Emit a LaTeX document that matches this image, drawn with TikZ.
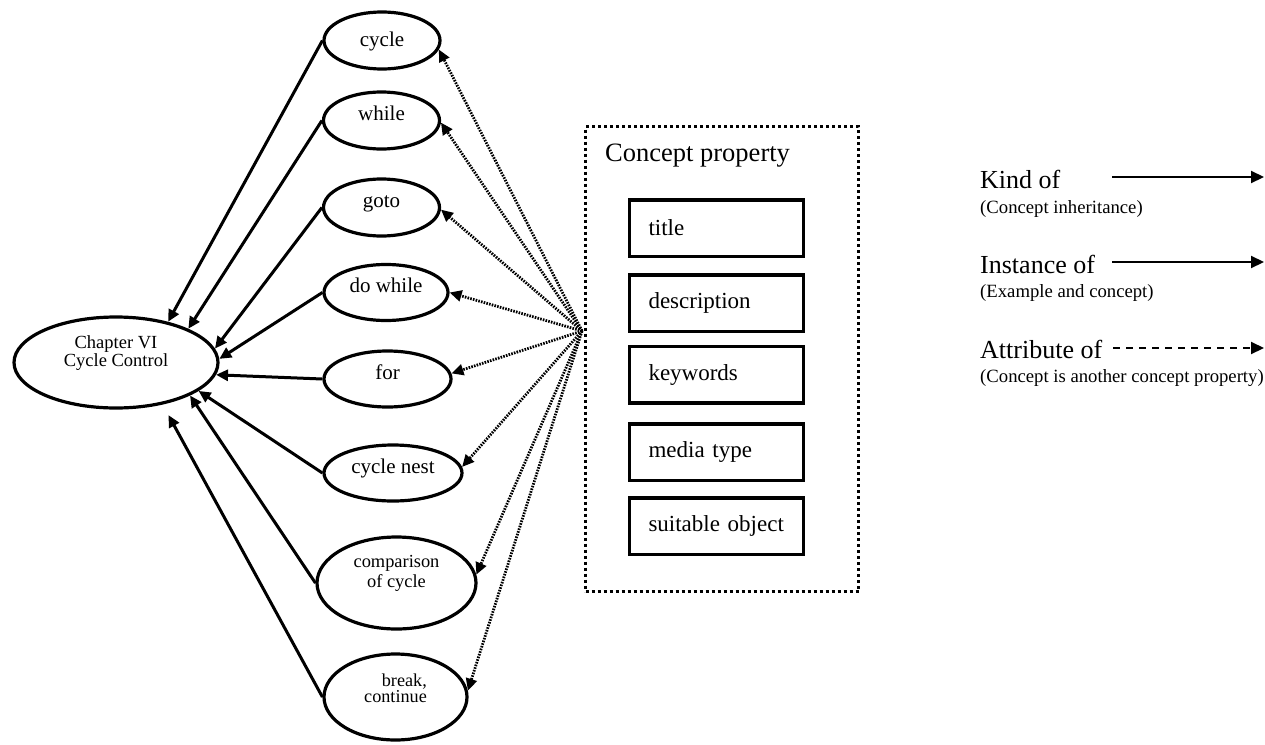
\documentclass[tikz,border=0pt]{standalone}
\usepackage{fontspec}
\setmainfont{Liberation Serif}
\usetikzlibrary{arrows.meta,shapes.geometric}

\begin{document}
\begin{tikzpicture}[x=1pt,y=-1pt,
		ell/.style={shape=ellipse,draw=black,line width=3.2pt,inner sep=0pt,font=\fontsize{21}{23}\selectfont,text height=14pt,text depth=14pt},
		pbox/.style={draw=black,line width=3.5pt,minimum height=56.5pt,text width=136pt,inner xsep=19pt,align=left,font=\fontsize{23}{25}\selectfont},
		propframe/.style={draw=black,line width=3pt,dash pattern=on 3pt off 3pt,minimum width=273pt,minimum height=465pt},
		kindof/.style={line width=3pt,-{Triangle[length=12pt,width=11pt]}},
		attrof/.style={line width=2.8pt,dash pattern=on 1.6pt off 1.2pt,-{Triangle[length=12pt,width=11pt]}},
		legmain/.style={anchor=base west,inner sep=0pt,font=\fontsize{26}{28}\selectfont},
		legsub/.style={anchor=base west,inner sep=0pt,font=\fontsize{18.7}{20}\selectfont},
		legline/.style={line width=2pt,-{Triangle[length=13pt,width=12pt]}}]
			\useasboundingbox (0,0) rectangle (1265,744);

			% concept ellipses
			\node[ell,minimum width=204pt,minimum height=91pt,align=center,font=\fontsize{18.5}{16}\selectfont,text depth=7pt] (chap) at (116,362.5) {Chapter VI\\Cycle Control};
			\node[ell,minimum width=116pt,minimum height=57pt,text depth=2pt] (cyc) at (382,40.5) {cycle};
			\node[ell,minimum width=116pt,minimum height=57pt] (whl) at (381.5,120.5) {while};
			\node[ell,minimum width=116pt,minimum height=57pt] (gto) at (381.5,207.5) {goto};
			\node[ell,minimum width=124pt,minimum height=56pt] (dowhl) at (386,292.5) {do while};
			\node[ell,minimum width=127pt,minimum height=56pt] (forl) at (387.5,379) {for};
			\node[ell,minimum width=138pt,minimum height=56pt] (nest) at (393,473) {cycle nest};
			\node[ell,minimum width=159pt,minimum height=92pt,align=center,font=\fontsize{18.4}{20}\selectfont,text depth=6pt] (comp) at (396.5,583) {comparison\\of cycle};
			\node[ell,minimum width=143pt,minimum height=86pt,align=right,font=\fontsize{18.2}{16}\selectfont,text depth=4pt] (brk) at (395.5,697) {break,\\continue};

			% concept property box
			\node[propframe] (prop) at (722,359) {};
			\node[anchor=base west,inner sep=0pt,font=\fontsize{26.5}{28}\selectfont] (proptitle) at (605,161) {Concept property};
			\node[pbox] (title) at (716.5,228) {title};
			\node[pbox] (desc) at (716.5,303) {description};
			\node[pbox] (keyw) at (716.5,374.5) {keywords};
			\node[pbox] (media) at (716.5,452) {media type};
			\node[pbox] (suit) at (716.5,526) {suitable object};
			\coordinate (hub) at (582,331);

			\path [kindof] (cyc.west) edge (chap.38);
			\path [kindof] (whl.west) edge (chap.25);
			\path [kindof] (gto.west) edge (chap.8.6);
			\path [kindof] (dowhl.west) edge (chap.2.4);
			\path [kindof] (forl.west) edge (chap.-7.4);
			\path [kindof] (nest.west) edge (chap.-19);
			\path [kindof] (comp.west) edge (chap.-24.5);
			\path [kindof,shorten >=12pt] (brk.west) edge (chap.-42);

			\path [attrof] (hub) edge (cyc.-9);
			\path [attrof] (hub) edge (whl.-2);
			\path [attrof] (hub) edge (gto.-2);
			\path [attrof] (hub) edge (dowhl.east);
			\path [attrof] (hub) edge (forl.5);
			\path [attrof] (hub) edge (nest.5);
			\path [attrof] (hub) edge (comp.6);
			\path [attrof] (hub) edge (brk.5);

			% legend
			\node[legmain] (kind) at (980,188) {Kind of};
			\node[legsub] (kindnote) at (980,213) {(Concept inheritance)};
			\node[legmain] (inst) at (980,273) {Instance of};
			\node[legsub] (instnote) at (980,297) {(Example and concept)};
			\node[legmain] (attr) at (980,358) {Attribute of};
			\node[legsub] (attrnote) at (980,382) {(Concept is another concept property)};
			\coordinate (kinda) at (1112,177);
			\coordinate (kindb) at (1264,177);
			\coordinate (insta) at (1112,262);
			\coordinate (instb) at (1264,262);
			\coordinate (attra) at (1113,348);
			\coordinate (attrb) at (1264,348);
			\path [legline] (kinda) edge (kindb);
			\path [legline] (insta) edge (instb);
			\path [legline,dash pattern=on 7pt off 6pt] (attra) edge (attrb);
		\end{tikzpicture}
\end{document}
